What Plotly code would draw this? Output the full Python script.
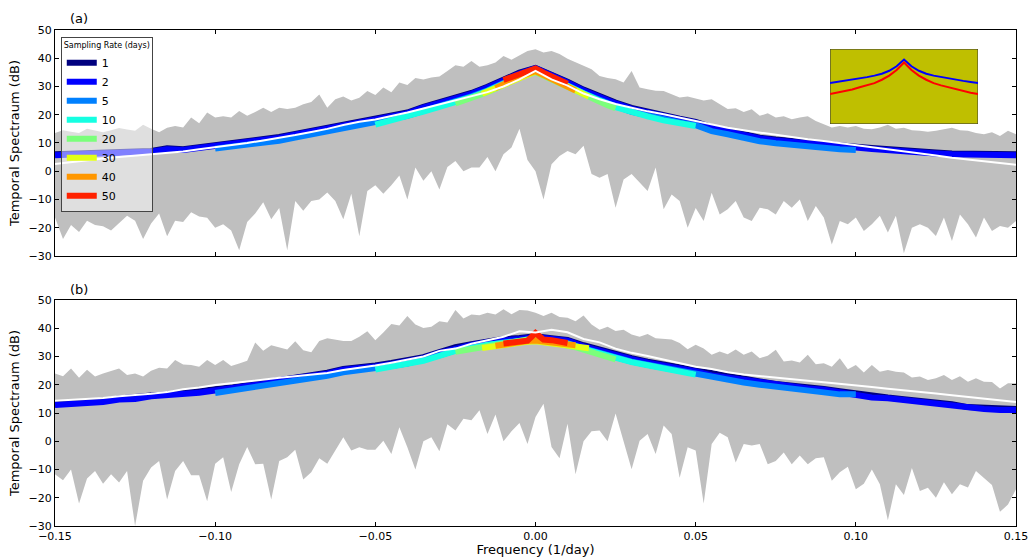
import numpy as np
import plotly.graph_objects as go

# ---------------- data ----------------
# frequency grids (1/day)
freq_env = np.round(np.arange(-60, 61) * 0.0025, 4)      # envelope grid
freq_line = np.round(np.arange(-30, 31) * 0.005, 3)      # full-band estimates
freq_r5 = freq_line[10:51]
freq_r10 = freq_line[20:41]
freq_r20 = np.round(np.arange(-10, 11) * 0.0025, 4)
freq_r30 = np.round(np.arange(-5, 6) / 300.0, 5)
freq_r40 = np.round(np.arange(-5, 6) * 0.0025, 4)
freq_r50 = np.round(np.arange(-4, 5) * 0.0025, 4)

# panel (a) envelope
upper_a = [13.5, 14.5, 14.0, 13.5, 15.0, 14.5, 13.8, 14.5, 15.3, 14.8, 14.3, 16.5, 15.0, 13.8, 15.4, 16.0,
           15.5, 19.0, 17.0, 20.8, 19.0, 19.5, 19.0, 21.3, 19.6, 21.0, 22.5, 21.0, 22.5, 22.0, 22.5, 23.7,
           24.5, 27.2, 22.5, 25.5, 26.5, 25.0, 26.0, 28.4, 27.0, 29.6, 28.0, 31.4, 30.5, 33.0, 32.5, 33.2,
           33.5, 35.5, 37.5, 37.0, 39.0, 37.0, 37.5, 38.5, 40.8, 39.5, 41.0, 42.6, 43.2,
           42.0, 42.6, 41.5, 39.8, 38.5, 37.3, 36.1, 33.7, 33.0, 32.6, 31.4, 35.5, 29.6, 29.0, 28.5, 28.4,
           27.2, 26.1, 26.5, 25.8, 25.0, 25.5, 23.7, 22.0, 22.3, 21.0, 21.9, 19.6, 20.5, 19.0, 19.5, 18.4,
           19.0, 19.5, 17.8, 16.6, 15.5, 16.0, 15.5, 16.0, 15.0, 14.9, 15.5, 16.5, 15.0, 15.4, 14.5, 14.3,
           14.0, 14.3, 14.8, 15.4, 14.5, 14.3, 13.5, 13.1, 13.8, 12.5, 14.3, 13.1]
lower_a = [-16.4, -24.0, -19.0, -21.5, -17.5, -19.0, -19.5, -21.0, -18.5, -15.8, -17.5, -24.0, -18.5, -15.0,
           -23.0, -17.5, -18.0, -14.5, -16.0, -16.5, -20.0, -18.8, -21.0, -28.0, -18.0, -15.0, -11.0, -17.0,
           -13.0, -28.0, -10.5, -14.0, -10.5, -10.0, -7.5, -10.5, -17.0, -8.0, -23.0, -7.0, -5.0, -8.0, -5.0,
           -1.5, -10.0, 1.3, -3.4, 0.0, -6.5, 1.5, 3.6, 0.0, 1.3, 1.3, 5.0, 0.0, 6.0, 8.4, 15.0, 4.0, 0.0,
           -10.0, 2.5, 5.4, 7.2, 6.0, 9.0, -1.0, -2.3, -1.0, -12.9, -2.9, -1.0, -4.0, -7.0, 1.3, -13.5, -8.2,
           -10.5, -20.0, -13.0, -17.6, -7.6, -15.3, -13.5, -10.5, -16.4, -17.6, -12.9, -13.5, -15.3, -10.5,
           -12.9, -10.0, -17.6, -12.3, -16.4, -25.9, -17.6, -18.8, -16.4, -21.2, -18.8, -15.8, -21.7, -15.8,
           -29.0, -20.0, -18.8, -20.0, -22.9, -16.4, -24.7, -15.3, -18.8, -23.5, -16.4, -21.2, -19.4, -20.0,
           -17.6]

# panel (b) envelope
upper_b = [24.0, 23.0, 25.8, 22.5, 25.3, 22.9, 24.0, 24.8, 25.8, 23.5, 24.0, 22.9, 25.0, 26.0, 25.8, 28.8,
           27.2, 27.0, 26.4, 28.8, 27.0, 28.8, 26.6, 27.5, 28.5, 35.0, 32.0, 34.0, 33.3, 32.5, 35.4, 32.2,
           31.5, 35.5, 36.5, 36.0, 35.5, 35.5, 37.0, 38.9, 35.8, 38.5, 41.5, 41.0, 44.3, 41.3, 40.1, 40.5,
           42.5, 42.0, 46.5, 43.5, 44.9, 44.6, 45.5, 44.9, 46.7, 45.0, 46.5, 46.3, 45.5,
           44.3, 45.5, 44.0, 43.7, 42.5, 44.5, 41.3, 39.5, 40.5, 39.0, 39.5, 37.8, 37.0, 38.0, 36.5, 36.3,
           36.0, 34.8, 32.6, 34.2, 32.8, 30.6, 31.8, 30.8, 32.5, 30.6, 31.8, 29.4, 30.3, 32.4, 28.2, 28.6,
           27.9, 30.6, 27.3, 27.6, 26.4, 29.4, 25.5, 27.0, 24.3, 27.0, 24.6, 25.2, 24.6, 24.3, 22.6, 22.9,
           21.7, 22.3, 23.5, 21.7, 23.0, 21.1, 22.3, 21.1, 21.0, 18.7, 20.5, 20.5]
lower_b = [-11.7, -13.8, -10.0, -22.0, -13.2, -10.5, -15.0, -11.7, -14.6, -10.5, -30.0, -14.0, -9.3, -7.0,
           -20.6, -10.5, -7.0, -12.0, -12.0, -21.2, -8.0, -5.7, -18.0, -8.1, -2.0, -8.1, -8.0, -20.6, -7.0,
           -5.7, -3.0, -13.5, -11.0, -6.0, -8.0, -3.3, 1.4, -3.3, -2.1, -3.0, -3.0, 0.2, -4.5, 5.0, -2.1,
           -10.0, 0.0, 1.4, -3.5, 6.0, 3.8, 8.0, 7.4, 11.0, 2.6, 9.5, 0.0, 3.5, 6.5, -1.0, 8.6,
           13.3, -2.0, -6.0, 6.2, -11.7, 0.0, 3.5, 3.8, 0.0, 9.8, 0.2, -9.9, 0.2, 2.6, -4.5, 5.6, 2.6, -12.9,
           -2.1, -3.3, -22.0, -1.0, 3.0, 1.4, -7.5, -1.0, -1.5, -1.0, -8.1, -7.0, -4.0, -8.1, -5.0, -8.1,
           -6.0, -5.7, -14.0, -11.0, -9.0, -17.0, -15.0, -10.0, -15.2, -28.0, -15.2, -19.0, -9.5, -17.6,
           -16.5, -20.0, -14.5, -18.8, -15.2, -16.4, -10.5, -13.0, -15.5, -25.0, -22.4, -17.0]

# panel (a) estimates per sampling rate (days)
a_true = [2.6, 3.3, 3.9, 4.5, 5.0, 5.5, 6.0, 6.5, 7.0, 7.8, 8.5, 9.2, 10.0, 10.9, 11.8, 12.8, 13.9, 15.0,
          16.4, 17.5, 18.3, 19.5, 20.8, 22.2, 23.7, 25.0, 26.7, 28.0, 30.0, 32.5, 35.5, 32.5, 30.3, 27.5,
          25.5, 23.8, 22.5, 21.2, 20.2, 19.0, 17.8, 16.5, 15.4, 14.5, 13.7, 12.8, 11.9, 11.3, 10.7, 10.0,
          9.3, 8.5, 7.8, 7.1, 6.4, 5.6, 4.8, 4.1, 3.4, 2.9, 2.3]
a_r1 = [6.0, 6.1, 6.3, 6.7, 6.7, 7.0, 7.2, 8.1, 7.8, 8.5, 9.4, 9.8, 10.4, 11.2, 12.1, 13.2, 14.3, 15.3,
        16.2, 17.2, 18.2, 19.5, 20.8, 22.8, 24.3, 26.0, 27.7, 29.9, 32.5, 34.9, 36.6, 34.4, 31.7, 28.9,
        26.5, 24.3, 22.4, 21.0, 19.6, 18.6, 17.5, 15.6, 14.4, 13.1, 11.9, 11.2, 10.6, 10.1, 9.6, 9.2, 8.7,
        8.2, 7.7, 7.2, 6.9, 6.6, 6.3, 6.1, 6.2, 5.9, 6.0]
a_r2 = [5.7, 5.8, 6.0, 6.4, 6.4, 6.7, 6.9, 7.8, 7.5, 8.2, 9.1, 9.5, 10.1, 10.9, 11.8, 12.9, 14.0, 15.0,
        15.9, 16.9, 17.9, 19.2, 20.5, 22.5, 24.0, 25.7, 27.4, 29.6, 32.2, 34.6, 36.5, 34.1, 31.4, 28.6,
        26.2, 24.0, 22.1, 20.7, 19.3, 18.3, 17.2, 15.3, 14.1, 12.8, 11.6, 10.9, 10.3, 9.8, 9.3, 8.9, 8.4,
        7.9, 7.4, 6.9, 6.6, 6.3, 6.0, 5.8, 5.9, 5.6, 5.7]
a_r5 = [8.0, 8.6, 9.1, 9.9, 10.8, 11.9, 13.0, 14.0, 15.0, 15.9, 16.9, 18.2, 19.6, 21.4, 23.1, 24.6, 26.5,
        28.6, 31.2, 33.8, 35.6, 33.2, 30.4, 27.6, 25.2, 23.0, 21.0, 19.7, 18.2, 17.3, 16.3, 14.2, 13.1,
        11.7, 10.6, 9.9, 9.3, 8.7, 8.3, 7.8, 7.5]
a_r10 = [16.5, 17.9, 19.3, 21.1, 22.8, 24.4, 26.2, 28.4, 31.0, 33.5, 35.5, 32.9, 30.2, 27.3, 25.0, 22.7,
         20.8, 19.4, 18.0, 17.0, 16.0]
a_r20 = [24.0, 24.9, 25.8, 26.8, 28.0, 29.2, 30.6, 31.8, 33.1, 34.2, 35.1, 33.8, 32.5, 31.1, 29.8, 28.3,
         26.9, 25.8, 24.6, 23.4, 22.3]
a_r30 = [27.4, 29.0, 30.8, 32.4, 34.0, 35.3, 33.8, 32.0, 30.0, 28.1, 26.4]
a_r40 = [29.5, 30.9, 32.1, 33.4, 34.5, 35.4, 34.1, 32.8, 31.4, 30.1, 28.6]
a_r50 = [32.3, 33.2, 34.3, 35.0, 36.4, 34.9, 33.6, 32.0, 31.0]

# panel (b) estimates per sampling rate (days)
b_true = [14.3, 14.6, 14.9, 15.3, 15.9, 16.3, 16.8, 17.4, 18.4, 19.0, 19.9, 20.5, 21.2, 21.8, 22.5, 23.0,
          23.6, 24.2, 25.2, 25.9, 26.8, 27.8, 29.0, 30.0, 32.0, 32.8, 34.5, 35.8, 37.0, 38.9, 38.5, 39.5,
          38.6, 36.2, 35.0, 32.8, 31.3, 30.2, 29.0, 27.6, 26.4, 25.6, 24.4, 23.6, 23.0, 22.5, 22.0, 21.4,
          20.9, 20.4, 19.7, 19.2, 18.6, 18.1, 17.4, 16.9, 16.3, 15.7, 15.2, 14.6, 13.9]
b_r1 = [13.1, 13.4, 14.0, 14.3, 15.1, 15.4, 16.2, 16.6, 17.1, 17.6, 18.3, 19.0, 19.9, 20.7, 21.9, 22.6,
        23.2, 24.3, 25.6, 26.1, 26.8, 27.7, 28.7, 29.8, 31.6, 33.3, 34.4, 35.5, 36.2, 36.6, 37.2, 36.5,
        35.9, 34.0, 32.4, 30.6, 29.4, 28.2, 27.2, 25.9, 25.0, 23.7, 22.8, 21.9, 21.2, 20.3, 19.8, 19.1,
        18.5, 17.7, 16.9, 15.9, 15.5, 14.9, 14.4, 13.4, 13.1, 12.1, 11.7, 11.5, 11.4]
b_r2 = [12.8, 13.0, 13.7, 13.9, 14.8, 15.0, 15.9, 16.2, 16.8, 17.2, 18.0, 18.6, 19.6, 20.3, 21.6, 22.2,
        22.9, 23.9, 25.3, 25.7, 26.5, 27.3, 28.4, 29.4, 31.3, 32.9, 34.1, 35.1, 35.9, 36.2, 36.9, 36.1,
        35.6, 33.6, 32.1, 30.2, 29.1, 27.8, 26.9, 25.5, 24.7, 23.3, 22.5, 21.5, 20.9, 19.9, 19.5, 18.7,
        18.2, 17.3, 16.6, 15.5, 15.2, 14.5, 14.1, 13.0, 12.8, 11.7, 11.4, 11.1, 11.1]
b_r5 = [17.1, 17.9, 18.7, 19.6, 20.7, 21.5, 22.0, 23.2, 24.4, 25.0, 25.6, 26.6, 27.5, 28.7, 30.4, 32.2,
        33.2, 34.4, 35.0, 35.5, 36.0, 35.4, 34.7, 32.9, 31.2, 29.5, 28.2, 27.1, 26.0, 24.8, 23.8, 22.6,
        21.6, 20.8, 20.0, 19.2, 18.6, 18.0, 17.3, 16.6, 16.6]
b_r10 = [25.4, 26.4, 27.3, 28.5, 30.2, 32.0, 33.0, 34.2, 34.8, 35.3, 35.8, 35.2, 34.5, 32.7, 31.0, 29.3,
         28.0, 26.9, 25.8, 24.6, 23.6]
b_r20 = [31.7, 32.2, 32.7, 33.3, 33.9, 34.4, 34.9, 35.3, 35.7, 36.0, 36.2, 35.7, 35.2, 34.7, 34.2, 33.3,
         32.4, 31.5, 30.7, 29.8, 29.0]
b_r30 = [33.0, 33.6, 34.2, 34.7, 35.1, 35.4, 35.0, 34.5, 34.0, 33.5, 32.9]
b_r40 = [33.8, 34.3, 34.7, 35.1, 35.5, 35.7, 35.4, 35.1, 34.8, 34.4, 34.0]
b_r50 = [34.6, 35.0, 35.2, 35.6, 38.3, 36.0, 35.8, 35.2, 34.8]

# inset (relative units)
inset_range_x = [-1.0, 1.0]
inset_range_y = [0.0, 1.0]
inset_x = np.round(np.arange(-10, 11) * 0.1, 2)
inset_blue = [0.545, 0.56, 0.575, 0.59, 0.61, 0.625, 0.645, 0.67, 0.71, 0.77, 0.86,
              0.77, 0.71, 0.67, 0.645, 0.625, 0.61, 0.59, 0.575, 0.56, 0.545]
inset_red = [0.40, 0.418, 0.436, 0.46, 0.49, 0.515, 0.545, 0.59, 0.645, 0.72, 0.82,
             0.72, 0.645, 0.59, 0.545, 0.515, 0.49, 0.46, 0.436, 0.418, 0.40]

rates = ["1", "2", "5", "10", "20", "30", "40", "50"]
rate_colors = ["#00007F", "#0000FF", "#0080FF", "#15FFE2", "#7BFF7B", "#E2FF15", "#FF9700", "#FF2100"]
rate_freqs = [freq_line, freq_line, freq_r5, freq_r10, freq_r20, freq_r30, freq_r40, freq_r50]
a_rates = [a_r1, a_r2, a_r5, a_r10, a_r20, a_r30, a_r40, a_r50]
b_rates = [b_r1, b_r2, b_r5, b_r10, b_r20, b_r30, b_r40, b_r50]

# ---------------- figure ----------------
FONT = "DejaVu Sans"
fig = go.Figure()

def add_panel(upper, lower, est, true, xa, ya, legend):
    fx = list(freq_env) + list(freq_env[::-1])
    fy = list(upper) + list(lower[::-1])
    fig.add_trace(go.Scatter(x=fx, y=fy, fill="toself", fillcolor="#BFBFBF", mode="lines",
                             line=dict(width=0), showlegend=False, hoverinfo="skip",
                             xaxis=xa, yaxis=ya))
    for name, col, fr, vals in zip(rates, rate_colors, rate_freqs, est):
        fig.add_trace(go.Scatter(x=fr, y=vals, mode="lines", name=name,
                                 line=dict(color=col, width=6), showlegend=legend,
                                 xaxis=xa, yaxis=ya))
    fig.add_trace(go.Scatter(x=freq_line, y=true, mode="lines", line=dict(color="white", width=2),
                             showlegend=False, xaxis=xa, yaxis=ya))

add_panel(upper_a, lower_a, a_rates, a_true, "x", "y", True)
add_panel(upper_b, lower_b, b_rates, b_true, "x2", "y2", False)

# inset: olive background box spanning the inset axes range, then the two curves
bx0, bx1 = inset_range_x
by0, by1 = inset_range_y
fig.add_trace(go.Scatter(x=[bx0, bx1, bx1, bx0, bx0], y=[by0, by0, by1, by1, by0],
                         fill="toself", fillcolor="#BFBF00", mode="lines",
                         line=dict(color="#333333", width=1), showlegend=False, hoverinfo="skip",
                         xaxis="x3", yaxis="y3"))
fig.add_trace(go.Scatter(x=inset_x, y=inset_blue, mode="lines", line=dict(color="#0000FF", width=2),
                         showlegend=False, xaxis="x3", yaxis="y3"))
fig.add_trace(go.Scatter(x=inset_x, y=inset_red, mode="lines", line=dict(color="#FF0000", width=2),
                         showlegend=False, xaxis="x3", yaxis="y3"))

axis_common = dict(showgrid=False, zeroline=False, showline=True, linecolor="black", linewidth=1,
                   mirror="ticks", ticks="inside", ticklen=4, tickcolor="black", automargin=False,
                   tickfont=dict(family=FONT, size=11, color="black"))

fig.update_layout(
    width=1029, height=557,
    margin=dict(l=55, r=13, t=30, b=31),
    paper_bgcolor="white", plot_bgcolor="white",
    font=dict(family=FONT, color="black"),
    xaxis=dict(domain=[0, 1], anchor="y", range=[-0.15, 0.15], dtick=0.05, tickformat=".2f",
               showticklabels=False, **axis_common),
    yaxis=dict(domain=[0.5444, 1], anchor="x", range=[-30, 50], dtick=10,
               title=dict(text="Temporal Spectraum (dB)", font=dict(family=FONT, size=13), standoff=6),
               **axis_common),
    xaxis2=dict(domain=[0, 1], anchor="y2", range=[-0.15, 0.15], dtick=0.05, tickformat=".2f",
                title=dict(text="Frequency (1/day)", font=dict(family=FONT, size=13), standoff=2),
                **axis_common),
    yaxis2=dict(domain=[0, 0.4556], anchor="x2", range=[-30, 50], dtick=10,
                title=dict(text="Temporal Spectraum (dB)", font=dict(family=FONT, size=13), standoff=6),
                **axis_common),
    xaxis3=dict(domain=[0.8065, 0.9605], anchor="y3", range=inset_range_x, visible=False),
    yaxis3=dict(domain=[0.8105, 0.9617], anchor="x3", range=inset_range_y, visible=False),
    legend=dict(x=0.006, y=0.986, xanchor="left", yanchor="top",
                bgcolor="rgba(255,255,255,0.5)", bordercolor="#444", borderwidth=1,
                font=dict(family=FONT, size=11),
                title=dict(text="Sampling Rate (days)", font=dict(family=FONT, size=8), side="top")),
    annotations=[
        dict(text="(a)", xref="paper", yref="paper", x=0.0135, y=1.024, xanchor="left",
             yanchor="middle", showarrow=False, font=dict(family=FONT, size=13)),
        dict(text="(b)", xref="paper", yref="paper", x=0.0135, y=0.476, xanchor="left",
             yanchor="middle", showarrow=False, font=dict(family=FONT, size=13)),
    ],
)

fig.write_html("out.html", config={"displayModeBar": False},
               post_script="document.body.style.margin='0';")
